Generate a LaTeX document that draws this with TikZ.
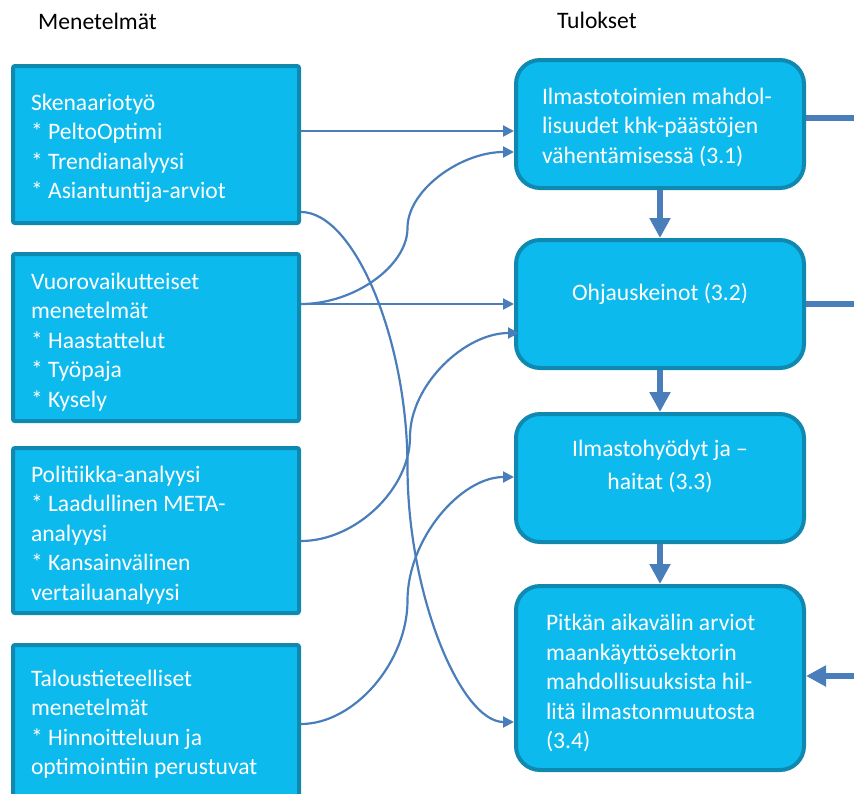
\documentclass[tikz,border=0pt]{standalone}
\usepackage{fontspec}
\setmainfont{Carlito}
\usetikzlibrary{arrows.meta,calc}
\definecolor{boxfill}{RGB}{12,186,237}
\definecolor{boxline}{RGB}{15,137,176}
\definecolor{conn}{RGB}{74,126,187}
\newcommand\boxfont{\fontsize{23.6pt}{29.5pt}\selectfont}
% shifted text block: #1 lift, #2 width, #3 lines
\newcommand\tblock[3]{\raisebox{#1}[\height][\depth]{\parbox{#2}{#3}}}
\newcommand\ccon[2]{%
  \draw[thinarrow] let \p1=(#1), \p2=(#2) in (\p1)
    .. controls ({0.75*\x1+0.25*\x2},\y1) and ({0.5*\x1+0.5*\x2},{0.75*\y1+0.25*\y2})
    .. ({0.5*\x1+0.5*\x2},{0.5*\y1+0.5*\y2})
    .. controls ({0.5*\x1+0.5*\x2},{0.25*\y1+0.75*\y2}) and ({0.25*\x1+0.75*\x2},\y2)
    .. (\p2);}
\begin{document}
\begin{tikzpicture}[x=1pt,y=-1pt,
  head/.style={font=\boxfont, text=black, inner sep=0pt},
  lbox/.style={draw=boxline, line width=4pt, fill=boxfill, rounded corners=2pt,
    minimum width=286pt, text=white, font=\boxfont, inner sep=0pt},
  rbox/.style={draw=boxline, line width=4pt, fill=boxfill, rounded corners=24pt,
    minimum width=288pt, minimum height=128pt, text=white, font=\boxfont, inner sep=0pt},
  thinarrow/.style={draw=conn, line width=2.2pt, -{Triangle[length=11pt,width=11pt]}},
  thickarrow/.style={draw=conn, line width=6.5pt, -{Triangle[length=20pt,width=20pt]}},
  thickline/.style={draw=conn, line width=6.5pt}]
\useasboundingbox (0,0) rectangle (854,793);
\node[head, anchor=west] (hm) at (38,21) {Menetelmät};
\node[head, anchor=west] (ht) at (557,20) {Tulokset};
% left boxes
\node[lbox, minimum height=157pt] (l1) at (156,144.5) {\tblock{-4pt}{250pt}{\raggedright Skenaariotyö\\{}* PeltoOptimi\\{}* Trendianalyysi\\{}* Asiantuntija-arviot}};
\node[lbox, minimum height=167pt] (l2) at (156,337.5) {\tblock{-4.5pt}{250pt}{\raggedright Vuorovaikutteiset\\menetelmät\\{}* Haastattelut\\{}* Työpaja\\{}* Kysely}};
\node[lbox, minimum height=165pt] (l3) at (156,530.5) {\tblock{-4.5pt}{250pt}{\raggedright Politiikka-analyysi\\{}* Laadullinen META-\\analyysi\\{}* Kansainvälinen\\vertailuanalyysi}};
\node[lbox, minimum height=154pt] (l4) at (156,722) {\tblock{-2pt}{250pt}{\raggedright Taloustieteelliset\\menetelmät\\{}* Hinnoitteluun ja\\optimointiin perustuvat}};
% right boxes
\node[rbox] (r1) at (660,124) {\tblock{-3pt}{236pt}{\raggedright Ilmastotoimien mahdol-\\lisuudet khk-päästöjen\\vähentämisessä (3.1)}};
\node[rbox] (r2) at (660,304) {\tblock{10pt}{250pt}{\centering Ohjauskeinot (3.2)}};
\node[rbox] (r3) at (660,478) {\tblock{11.5pt}{250pt}{\centering Ilmastohyödyt ja –\\[3pt] haitat (3.3)}};
\node[rbox, minimum height=184pt] (r4) at (660,678) {\tblock{-5pt}{228pt}{\raggedright Pitkän aikavälin arviot\\maankäyttösektorin\\mahdollisuuksista hil-\\litä ilmastonmuutosta\\(3.4)}};
% thick arrows
\draw[thickarrow] (r1.south) -- (r2.north);
\draw[thickarrow] (r2.south) -- (r3.north);
\draw[thickarrow] (r3.south) -- (r4.north);
\coordinate (o1) at (854,118);
\coordinate (o2) at (854,304);
\coordinate (o4) at (854,676);
\draw[thickline] ([yshift=6pt]r1.east) -- (o1);
\draw[thickline] (r2.east) -- (o2);
\draw[thickarrow] (o4) -- ([yshift=2pt]r4.east);
% thin connectors
\coordinate (s1) at ([yshift=13.5pt]l1.east);
\coordinate (s2) at ([yshift=33.5pt]l2.east);
\coordinate (s3) at ([yshift=-67.5pt]l1.east);
\coordinate (s4) at ([yshift=-10.5pt]l3.east);
\coordinate (s5) at ([yshift=-2pt]l4.east);
\coordinate (e2) at ([yshift=-28pt]r1.west);
\coordinate (e3) at ([yshift=-44pt]r4.west);
\coordinate (e4) at ([yshift=-29pt,xshift=5pt]r2.west);
\coordinate (e5) at ([yshift=1pt]r3.west);
\draw[thinarrow] (s1) -- (s1 -| r1.west);
\draw[thinarrow] (s2) -- (r2.west);
\ccon{s2}{e2}
\ccon{s3}{e3}
\ccon{s4}{e4}
\ccon{s5}{e5}
\end{tikzpicture}
\end{document}
